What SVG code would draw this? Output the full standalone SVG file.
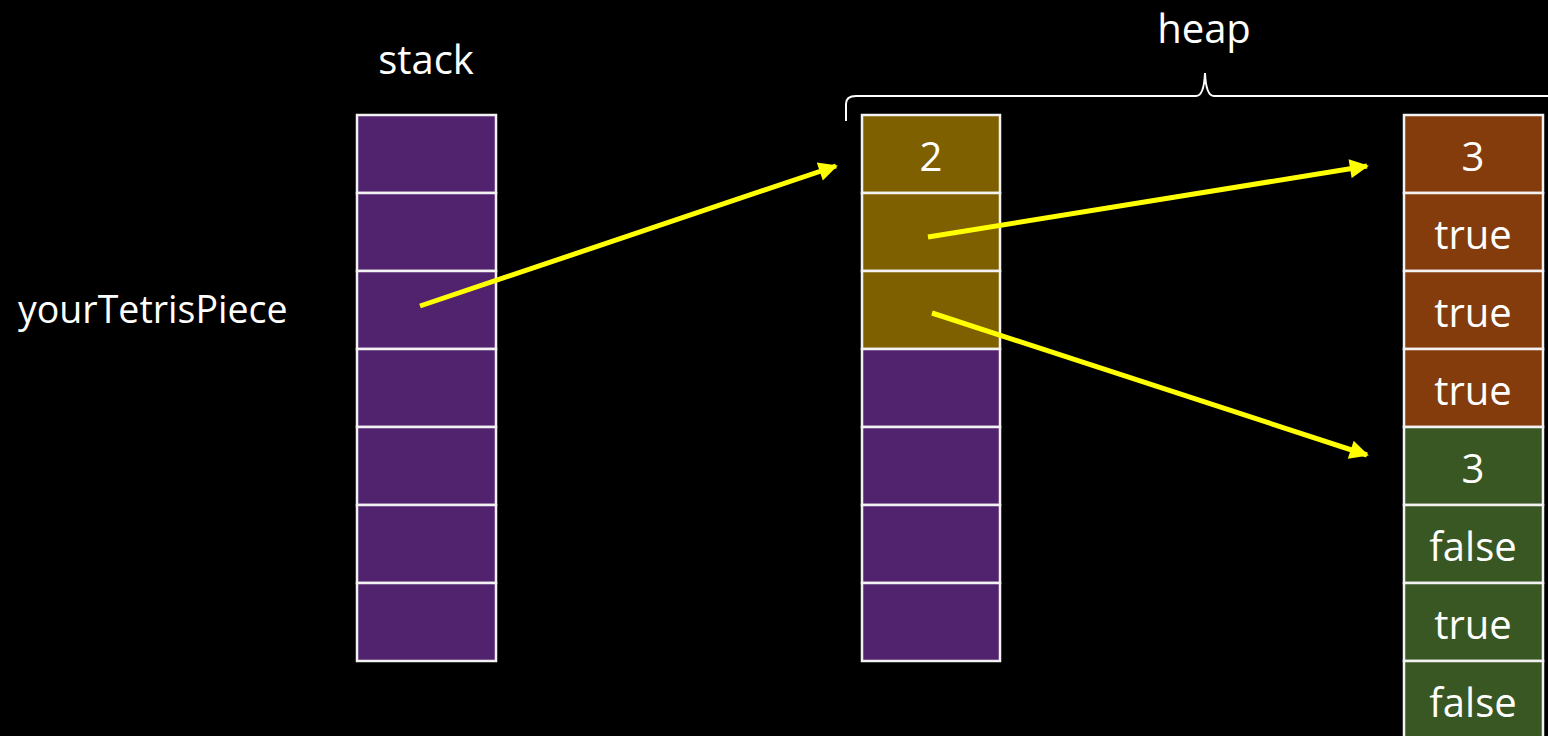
<svg xmlns="http://www.w3.org/2000/svg" width="1548" height="736" viewBox="0 0 1548 736">
<defs>
<style>
.bg{fill:#000}
.cell{stroke:#f2f2f2;stroke-width:2.5}
.p{fill:#51236F}
.o{fill:#7F6000}
.b{fill:#843C0C}
.g{fill:#385723}
.t{font-family:"Open Sans","Liberation Sans",sans-serif;font-size:40px;fill:#fff;text-anchor:middle}
.lbl{font-family:"Open Sans","Liberation Sans",sans-serif;font-size:37.5px;fill:#fff}
.arrow{stroke:#FFFF00;stroke-width:5;fill:none;marker-end:url(#ah)}
.brace{stroke:#fff;stroke-width:2;fill:none}
</style>
<marker id="ah" viewBox="0 0 10 10" refX="9" refY="5" markerWidth="4.4" markerHeight="3.8" orient="auto" markerUnits="strokeWidth">
<path d="M0,0 L10,5 L0,10 z" fill="#FFFF00"/>
</marker>
</defs>
<rect class="bg" x="0" y="0" width="1548" height="736"/>
<g id="stack-title"><text class="t" x="426" y="74">stack</text></g>
<g id="heap-title"><text class="t" x="1204" y="43">heap</text></g>
<g id="heap-brace"><path class="brace" d="M846,121 L846,104 Q846,96 856,96 L1196,96 Q1204,96 1205,73 Q1206,96 1214,96 L1548,96"/></g>
<g id="label"><text class="lbl" x="18" y="323">yourTetrisPiece</text></g>
<g id="stack">
<rect class="cell p" x="357" y="115" width="139" height="78"/>
<rect class="cell p" x="357" y="193" width="139" height="78"/>
<rect class="cell p" x="357" y="271" width="139" height="78"/>
<rect class="cell p" x="357" y="349" width="139" height="78"/>
<rect class="cell p" x="357" y="427" width="139" height="78"/>
<rect class="cell p" x="357" y="505" width="139" height="78"/>
<rect class="cell p" x="357" y="583" width="139" height="78"/>
</g>
<g id="heap-mid">
<rect class="cell o" x="862" y="115" width="138" height="78"/>
<rect class="cell o" x="862" y="193" width="138" height="78"/>
<rect class="cell o" x="862" y="271" width="138" height="78"/>
<rect class="cell p" x="862" y="349" width="138" height="78"/>
<rect class="cell p" x="862" y="427" width="138" height="78"/>
<rect class="cell p" x="862" y="505" width="138" height="78"/>
<rect class="cell p" x="862" y="583" width="138" height="78"/>
<text class="t" x="931" y="171">2</text>
</g>
<g id="heap-brown">
<rect class="cell b" x="1404" y="115" width="139" height="78"/>
<rect class="cell b" x="1404" y="193" width="139" height="78"/>
<rect class="cell b" x="1404" y="271" width="139" height="78"/>
<rect class="cell b" x="1404" y="349" width="139" height="78"/>
<text class="t" x="1473" y="171">3</text>
<text class="t" x="1473" y="249">true</text>
<text class="t" x="1473" y="327">true</text>
<text class="t" x="1473" y="405">true</text>
</g>
<g id="heap-green">
<rect class="cell g" x="1404" y="427" width="139" height="78"/>
<rect class="cell g" x="1404" y="505" width="139" height="78"/>
<rect class="cell g" x="1404" y="583" width="139" height="78"/>
<rect class="cell g" x="1404" y="661" width="139" height="78"/>
<text class="t" x="1473" y="483">3</text>
<text class="t" x="1473" y="561">false</text>
<text class="t" x="1473" y="639">true</text>
<text class="t" x="1473" y="717">false</text>
</g>
<g id="connectors">
<line class="arrow" x1="420" y1="306" x2="836" y2="166"/>
<line class="arrow" x1="928" y1="237" x2="1367" y2="166"/>
<line class="arrow" x1="932" y1="313" x2="1367" y2="455"/>
</g>
</svg>
